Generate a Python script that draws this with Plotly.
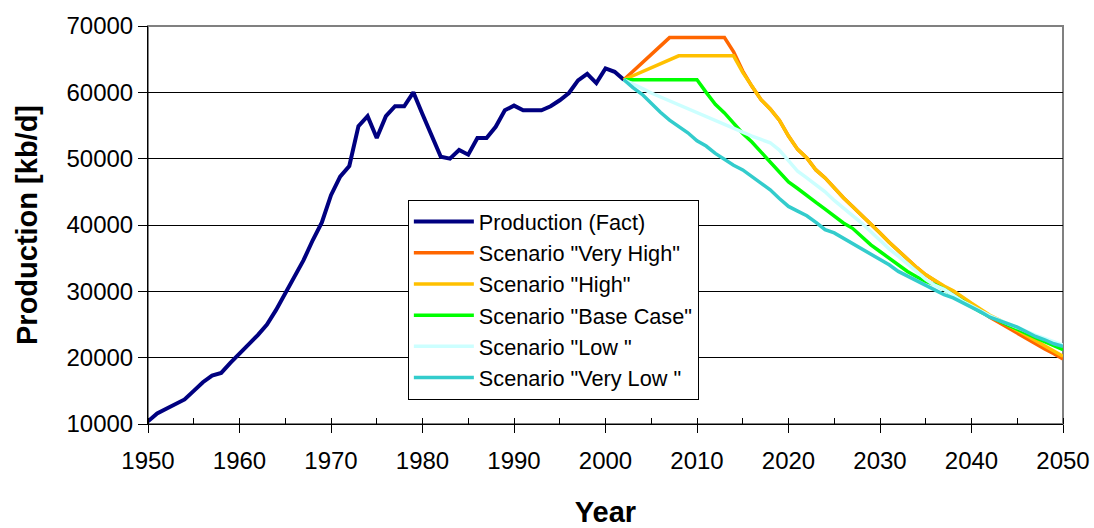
import plotly.graph_objects as go

# ---- data ----
fact_years = list(range(1950, 2003))
fact_values = [10400, 11600, 12300, 13000, 13700, 15000, 16300, 17300, 17700, 19200,
               20700, 22000, 23400, 25000, 27200, 29700, 32200, 34700, 37700, 40400,
               44500, 47300, 48900, 54900, 56400, 53100, 56400, 57900, 57900, 60000,
               56700, 53400, 50300, 50000, 51300, 50600, 53100, 53100, 54800, 57300,
               58000, 57300, 57300, 57300, 57900, 58800, 59900, 61800, 62800, 61400,
               63600, 63100, 61900]

scen_years = list(range(2002, 2051))
very_high = [61900, 63170, 64440, 65710, 66980, 68250,
             68250, 68250, 68250, 68250, 68250, 68250,
             66100, 63200, 60900, 58900, 57500, 55800, 53400,
             51400, 50100, 48300, 47100, 45500,
             44100, 42800, 41500, 40200, 38800,
             37400, 36100, 34800, 33600, 32500,
             31600, 30700, 30000, 29000, 28100,
             27100, 26100, 25300, 24500, 23600,
             22900, 22100, 21300, 20600, 19800]
high = [61900, 62500, 63100, 63700, 64300, 64900,
        65500, 65500, 65500, 65500, 65500, 65500, 65500,
        63000, 60900, 58900, 57500, 55800, 53400,
        51400, 50100, 48300, 47100, 45500,
        44100, 42800, 41500, 40200, 38800,
        37400, 36100, 34800, 33600, 32500,
        31600, 30800, 30100, 29100, 28200,
        27300, 26400, 25700, 24900, 24100,
        23300, 22500, 21800, 21000, 20200]
base_case = [61900, 61900, 61900, 61900, 61900, 61900, 61900, 61900, 61900,
             60000, 58200, 56900, 55300, 53800, 52500, 51000, 49400, 47900, 46500,
             45500, 44400, 43400, 42400, 41400, 40300, 39500, 38200, 37000, 36000,
             35000, 34000, 33000, 32200, 31500, 31000, 30300, 29400, 28500, 27700,
             26900, 26200, 25500, 24900, 24300, 23600, 23000, 22400, 21800, 21200]
low = [61900, 61300, 60600, 59900, 59300, 58700, 58100, 57500, 56900,
       56300, 55700, 55100, 54500, 53900, 53400, 52900, 52400, 51300, 49700,
       48100, 47100, 46100, 45000, 43700, 42500, 41400, 40300, 39000, 37600,
       36400, 35300, 34100, 32900, 31800, 30900, 30300, 29400, 28500, 27800,
       27000, 26300, 25700, 25100, 24500, 23900, 23400, 22900, 22400, 21900]
very_low = [61900, 60700, 59700, 58300, 57000, 55800, 54800, 53900, 52700,
            51900, 50800, 49900, 49000, 48300, 47300, 46300, 45300, 44000, 42800,
            42100, 41400, 40400, 39300, 38800, 38000, 37200, 36400, 35600, 34900,
            34000, 33000, 32300, 31600, 30800, 30200, 29500, 29000, 28300, 27700,
            26900, 26100, 25600, 25000, 24600, 23900, 23200, 22700, 22100, 21700]

series = [
    ("Production (Fact)", fact_years, fact_values, "#000080", 4),
    ('Scenario "Very High"', scen_years, very_high, "#FF6600", 3.5),
    ('Scenario "High"', scen_years, high, "#FFC000", 3.5),
    ('Scenario "Base Case"', scen_years, base_case, "#00FF00", 3.5),
    ('Scenario "Low "', scen_years, low, "#CCFFFF", 3.5),
    ('Scenario "Very Low "', scen_years, very_low, "#33CCCC", 3.5),
]

x_ticks = list(range(1950, 2051, 10))
y_ticks = list(range(10000, 70001, 10000))

FONT = "Arial, Liberation Sans, sans-serif"

fig = go.Figure()
for i, (name, xs, ys, col, w) in enumerate(series):
    fig.add_trace(go.Scatter(x=xs, y=ys, mode="lines", name=name,
                             legendgroup=f"g{i}",
                             line=dict(color=col, width=w)))

fig.update_layout(
    width=1094, height=528,
    margin=dict(l=148, r=31, t=26, b=104),
    paper_bgcolor="white", plot_bgcolor="white",
    font=dict(family=FONT, color="black"),
    showlegend=True,
    legend=dict(x=0.284, y=0.563, xanchor="left", yanchor="top",
                bgcolor="white", bordercolor="black", borderwidth=1,
                font=dict(size=21.7, family=FONT, color="black"),
                itemwidth=60,
                tracegroupgap=10, traceorder="normal"),
    xaxis=dict(range=[1950, 2050], tickvals=x_ticks,
               ticktext=[str(v) for v in x_ticks],
               showgrid=False, zeroline=False, automargin=False,
               showline=True, linecolor="black", linewidth=1,
               ticks="outside", ticklen=8, tickcolor="black", tickwidth=1,
               tickfont=dict(size=24), ticklabelstandoff=7,
               minor=dict(dtick=5, ticks="inside", ticklen=6, tickcolor="black", tickwidth=1),
               title=dict(text="<b>Year</b>", font=dict(size=29), standoff=34)),
    yaxis=dict(range=[10000, 70000], tickvals=y_ticks, tickformat="d",
               showgrid=True, gridcolor="black", gridwidth=1,
               zeroline=False, automargin=False,
               showline=True, linecolor="black", linewidth=1,
               ticks="outside", ticklen=9, tickcolor="black", tickwidth=1,
               tickfont=dict(size=24),
               title=dict(text="<b>Production [kb/d]</b>", font=dict(size=29), standoff=20)),
    xaxis2=dict(overlaying="x", matches="x", range=[1950, 2050], tickvals=x_ticks,
                showticklabels=False, showgrid=False, zeroline=False, showline=False,
                automargin=False,
                ticks="inside", ticklen=6, tickcolor="black", side="bottom"),
)

fig.add_shape(type="rect", xref="paper", yref="paper", x0=0, y0=0, x1=1, y1=1,
              line=dict(color="#808080", width=2), layer="below")

# invisible helper trace so the overlay axis (crossing major ticks) is drawn
fig.add_trace(go.Scatter(x=[1950], y=[10000], xaxis="x2", mode="markers",
                         marker=dict(opacity=0), showlegend=False, hoverinfo="skip"))

fig.write_html("out.html")
